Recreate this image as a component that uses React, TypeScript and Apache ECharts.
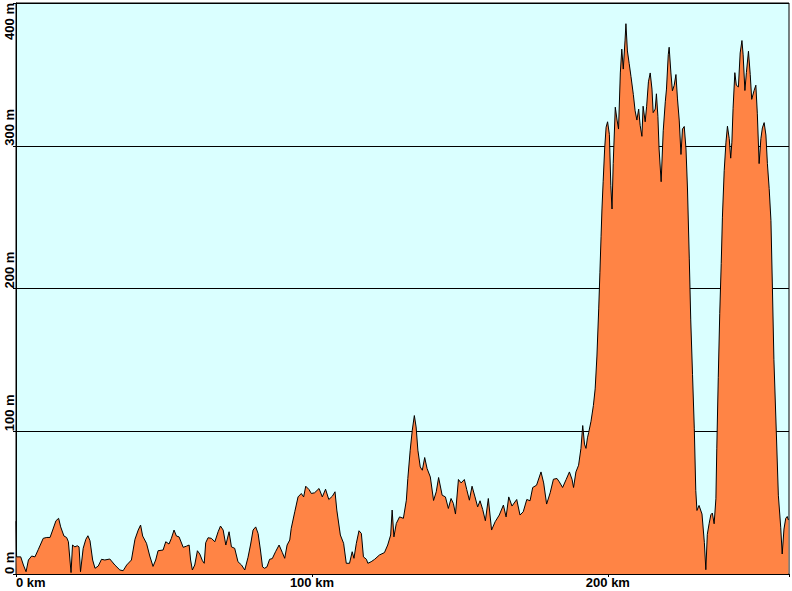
import React, { useEffect, useRef } from "react";
import * as echarts from "echarts";

const distanceKm = [
  0, 0.2, 1.6, 2.5, 3.4, 4.2, 5.3, 6.4, 7.5, 9.2, 10.4, 11.5, 12.4, 13.5, 14.4, 15.1, 16.2, 17.1, 17.7, 18.6,
  19.1, 19.9, 20.7, 21.3, 21.8, 22.7, 23.6, 24.3, 25.0, 25.9, 26.7, 27.8, 28.9, 30.0, 31.7, 33.4, 35.1, 36.2, 37.4, 39.0,
  40.2, 41.3, 42.1, 42.8, 44.1, 45.2, 46.3, 47.2, 48.0, 49.7, 50.6, 51.7, 52.5, 53.4, 54.2, 55.1, 56.5, 57.6, 58.5, 59.0,
  59.6, 60.4, 61.3, 62.1, 63.0, 63.6, 64.1, 64.9, 66.0, 67.2, 68.3, 69.1, 70.0, 70.9, 72.0, 72.8, 73.9, 75.0, 76.2, 77.3,
  78.4, 79.3, 80.1, 81.0, 81.8, 82.6, 83.3, 84.0, 84.8, 85.7, 86.6, 87.7, 88.9, 90.0, 90.8, 91.6, 92.5, 93.0, 94.2, 95.3,
  96.4, 97.2, 97.9, 99.0, 99.8, 100.9, 102.4, 103.5, 104.6, 105.7, 106.9, 107.8, 108.4, 109.6, 110.7, 111.6, 112.7, 113.6, 114.2, 115.0,
  115.9, 116.7, 117.4, 118.4, 118.9, 120.0, 121.2, 122.8, 124.5, 125.6, 126.6, 127.1, 127.7, 128.5, 129.6, 130.9, 131.9, 132.4, 133.2, 133.9,
  134.6, 135.2, 135.8, 136.6, 137.3, 138.1, 138.9, 140.0, 141.1, 142.0, 142.8, 144.0, 145.1, 146.1, 147.0, 147.8, 148.5, 149.5, 150.4, 151.5,
  152.3, 153.2, 154.1, 155.1, 156.0, 156.8, 157.7, 158.6, 159.6, 160.7, 161.9, 163.3, 164.7, 165.6, 166.5, 167.6, 169.2, 170.3, 171.4, 172.6,
  173.7, 174.6, 175.9, 177.4, 178.3, 179.3, 180.5, 181.6, 182.8, 183.6, 184.7, 185.9, 187.0, 187.9, 188.4, 189.2, 190.1, 190.9, 191.5, 192.1,
  192.6, 193.1, 193.5, 194.3, 195.1, 195.7, 196.3, 196.9, 197.3, 197.7, 198.0, 198.4, 198.9, 199.4, 199.9, 200.5, 201.0, 201.4, 201.8, 202.5,
  203.1, 203.6, 204.2, 204.7, 205.2, 205.8, 206.1, 206.6, 207.2, 207.8, 208.6, 209.2, 209.8, 210.4, 210.9, 211.5, 211.9, 212.6, 213.1, 213.7,
  214.3, 214.9, 215.3, 216.0, 216.4, 216.9, 217.3, 218.0, 218.7, 219.4, 219.8, 220.4, 220.7, 221.3, 221.8, 222.4, 223.0, 223.5, 224.1, 224.7,
  225.2, 225.8, 226.4, 226.9, 227.5, 228.0, 228.6, 229.2, 229.7, 230.1, 230.8, 231.8, 232.6, 233.1, 233.6, 234.2, 234.8, 235.3, 235.9, 236.5,
  236.8, 237.3, 237.8, 238.3, 238.7, 239.3, 239.9, 240.4, 241.0, 241.5, 241.9, 242.3, 242.9, 243.4, 244.1, 244.7, 245.3, 245.7, 246.3, 246.8,
  247.5, 248.1, 248.6, 249.4, 250.0, 250.5, 251.1, 251.7, 252.2, 252.8, 253.4, 253.9, 254.5, 255.1, 255.6, 256.1, 256.9, 257.6, 258.4, 258.9,
  259.5, 260.1, 260.6, 261.0,
];

const elevationM = [
  37, 12, 12, 6.3, 1.6, 9.8, 12.6, 12, 17, 25, 25.6, 25.6, 30.8, 37.3, 39, 33, 26.6, 25.6, 22.6, 1,
  20.3, 19, 19.8, 19, 1.6, 18, 24.3, 26.8, 23.3, 9.8, 4, 5.6, 10.3, 9.8, 10.5, 6.3, 2.8, 2.3, 6.3, 9.8,
  24.3, 30.8, 34.3, 26.6, 21.5, 12.6, 5.3, 9.8, 16.3, 16.8, 22.6, 21, 25, 30.8, 26.6, 26, 18.7, 19.5, 20.3, 9.8,
  2.8, 6.3, 16.3, 14, 9.3, 7.5, 21.9, 25.4, 25, 22.6, 29.6, 33.6, 30.8, 20.3, 29.6, 19, 18, 8.6, 6.3, 2.8,
  11.7, 21, 30.8, 33, 28.4, 16.8, 5, 4, 5, 10.3, 10.8, 15.6, 20.3, 15, 11, 20.3, 23.8, 32, 43.6, 54,
  56.4, 54, 61.5, 59.2, 56.4, 56.9, 59.9, 54, 59.4, 52.2, 54.5, 57.6, 44.8, 27.3, 21.5, 7.5, 7.5, 15.6, 11, 21.5,
  30.3, 28.4, 12, 10.3, 7.5, 8.6, 10.3, 13.3, 15, 20.3, 27.3, 44.8, 26, 35.4, 40, 39, 51.7, 66.9, 86.7, 100.7,
  111, 103, 86.7, 75, 72.7, 81.6, 73.9, 68, 51.5, 57.6, 67.6, 55.2, 54, 45.9, 52.9, 49.4, 42, 66.2, 63.8, 66.2,
  59.2, 51.7, 61.5, 54, 47, 51.3, 45.2, 37.3, 52.9, 30.8, 36.6, 41.3, 48.3, 40, 54, 47.6, 52.2, 41.3, 43.6, 52.2,
  51.3, 60.6, 62.2, 71.5, 63.8, 49, 56.9, 66.4, 66.9, 64.5, 60.6, 66.2, 71.5, 66.2, 60.6, 71.5, 76.2, 88, 104, 91,
  88, 95.4, 99, 107, 118, 129.7, 152.7, 185.7, 211, 236.6, 255.7, 274.8, 297.7, 313, 316.8, 308, 272, 255.7, 287.6, 327,
  318, 311.7, 351, 367.7, 353.7, 374, 385.5, 366.4, 357.5, 348.6, 335.9, 324.5, 318, 325.7, 314.3, 306.6, 327.7, 316.8, 327.7, 344.8,
  351, 339.7, 323.2, 325.7, 336.4, 320.6, 297.7, 274.8, 310.5, 330.8, 339.7, 363.8, 369, 351, 338.5, 342.3, 349.9, 333.4, 318, 293.9,
  311.7, 313.5, 297.7, 269.7, 221.3, 178, 139.9, 101.7, 58.5, 44.5, 48, 42, 22, 3, 27.8, 35.2, 41.5, 42.7, 35.2, 52.7,
  87.7, 137.8, 182.6, 217.6, 250, 282.5, 302.5, 313.7, 305, 291.3, 302.5, 326.2, 351.2, 342.4, 341.2, 365, 373.7, 363.7, 338.7, 351.2,
  366.2, 350, 332.5, 338.7, 342.4, 322.4, 287.5, 305, 312.5, 316.2, 307.5, 287.5, 270, 247.6, 200, 150.1, 100.2, 55.2, 32.8, 14,
  31.5, 39, 40.3, 37.8,
];

const xTickValues = [0, 100, 200];
const yTickValues = [0, 100, 200, 300, 400];
const xUnit = "km";
const yUnit = "m";

export default function App() {
  const ref = useRef<HTMLDivElement>(null);

  useEffect(() => {
    if (!ref.current) return;
    const chart = echarts.init(ref.current, undefined, { renderer: "svg" });
    const data = distanceKm.map((d, i) => [d, elevationM[i]]);
    const font = "'Liberation Sans', Arial, sans-serif";
    chart.setOption({
      animation: false,
      backgroundColor: "#ffffff",
      grid: {
        left: 16,
        right: 2,
        top: 2,
        bottom: 17,
        show: true,
        backgroundColor: "#DAFFFF",
        borderColor: "#000000",
        borderWidth: 1,
      },
      xAxis: {
        type: "value",
        min: 0,
        max: 261.2,
        interval: 100,
        splitLine: { show: false },
        axisLine: { show: true, onZero: false, lineStyle: { color: "#000", width: 1 } },
        axisTick: { show: true, length: 3, lineStyle: { color: "#000" } },
        axisLabel: {
          show: true,
          margin: 2,
          color: "#000",
          fontWeight: "bold",
          fontSize: 13,
          fontFamily: font,
          alignMinLabel: "left",
          formatter: (v: number) => (xTickValues.includes(v) ? `${v} ${xUnit}` : ""),
        },
      },
      yAxis: {
        type: "value",
        min: 0,
        max: 400,
        interval: 100,
        splitLine: { show: true, lineStyle: { color: "#000", width: 1 } },
        axisLine: { show: true, lineStyle: { color: "#000", width: 1 } },
        axisTick: { show: true, length: 3, lineStyle: { color: "#000" } },
        axisLabel: {
          show: true,
          rotate: 90,
          margin: 7,
          align: "left",
          alignMaxLabel: "right",
          verticalAlign: "middle",
          color: "#000",
          fontWeight: "bold",
          fontSize: 13,
          fontFamily: font,
          formatter: (v: number) => (yTickValues.includes(v) ? `${v} ${yUnit}` : ""),
        },
      },
      series: [
        {
          type: "line",
          data,
          symbol: "none",
          smooth: false,
          lineStyle: { color: "#000000", width: 1 },
          areaStyle: { color: "#FF8445", opacity: 1 },
          z: 3,
        },
      ],
    });
    return () => chart.dispose();
  }, []);

  return (
    <div
      ref={ref}
      style={{ position: "absolute", left: 0, top: 0, width: 792, height: 591 }}
    />
  );
}
